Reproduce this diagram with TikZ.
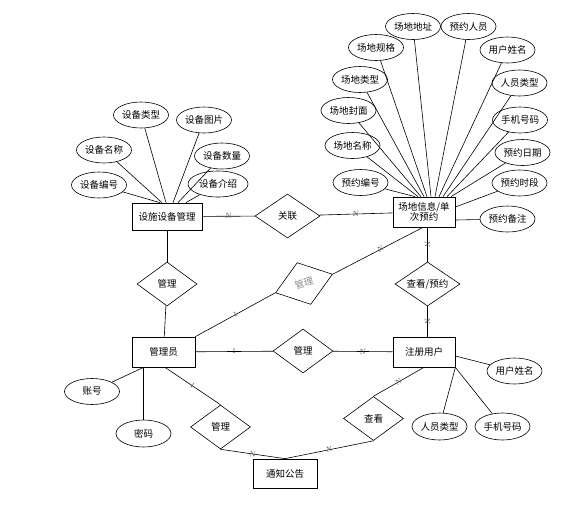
\documentclass[tikz,border=0pt]{standalone}
\usepackage{fontspec}
\usepackage{tikz}
\usetikzlibrary{shapes.geometric,shadows}
\newfontfamily\cjk{Noto Sans CJK SC}
\definecolor{cLbl}{HTML}{4a4a4a}
\tikzset{
  ent/.style={draw,fill=white,line width=0.7pt,minimum width=63pt,minimum height=30pt,
    inner sep=2pt,align=center,font=\cjk\fontsize{9.5}{10.5}\selectfont,
    drop shadow={shadow xshift=1pt,shadow yshift=-1pt,fill=black!45,opacity=0.7}},
  attr/.style={ellipse,draw,fill=white,line width=0.6pt,minimum width=55pt,minimum height=26pt,
    inner sep=0pt,font=\cjk\fontsize{9.5}{11}\selectfont},
  rel/.style={diamond,draw,fill=white,line width=0.6pt,aspect=1.5,minimum width=60pt,
    minimum height=44pt,inner sep=0pt,font=\cjk\fontsize{9.5}{11}\selectfont},
  card/.style={font=\fontsize{7.5}{8}\selectfont,text=cLbl,inner sep=0.5pt},
  link/.style={line width=0.6pt},
}

\begin{document}
\begin{tikzpicture}[x=1pt,y=-1pt]
\useasboundingbox (0,0) rectangle (579,504);
% entities
\node[ent,minimum width=70pt,minimum height=27pt] (dev) at (167,216.5) {设施设备管理};
\node[ent,minimum width=62pt] (site) at (424,212) {场地信息/单\\[-1pt]次预约};
\node[ent] (admin) at (163.5,352) {管理员};
\node[ent,minimum width=62pt] (user) at (424,352) {注册用户};
\node[ent,minimum width=64pt,minimum height=29pt] (notice) at (285,473.5) {通知公告};
% relations
\node[rel,minimum width=65pt] (rel) at (287.5,216) {关联};
\node[rel] (mgA) at (167,284) {管理};
\node[rel,rotate=18,text=black!45] (mgB) at (304,283.5) {管理};
\node[rel,minimum width=65pt] (view) at (427.5,284) {查看/预约};
\node[rel] (mgC) at (303,351) {管理};
\node[rel] (mgD) at (220.5,427) {管理};
\node[rel] (look) at (373.5,418.5) {查看};
% attributes of dev
\node[attr] (dType) at (141,115) {设备类型};
\node[attr] (dPic) at (204,120) {设备图片};
\node[attr] (dName) at (104,150) {设备名称};
\node[attr] (dNum) at (222,156) {设备数量};
\node[attr] (dId) at (99,185) {设备编号};
\node[attr,minimum width=60pt] (dIntro) at (218,184) {设备介绍};
\draw[link] (dId) -- ([xshift=-7pt]dev.north);
\draw[link] (dName) -- ([xshift=-5pt]dev.north);
\draw[link] (dType) -- ([xshift=-1pt]dev.north);
\draw[link] (dPic) -- ([xshift=6pt]dev.north);
\draw[link] (dNum) -- ([xshift=11pt]dev.north);
\draw[link] (dIntro) -- ([xshift=19pt]dev.north);
% attributes of site
\node[attr] (sAddr) at (413,26.5) {场地地址};
\node[attr] (rPers) at (468.5,26.5) {预约人员};
\node[attr] (sSpec) at (376,47.5) {场地规格};
\node[attr] (uName) at (507.5,50) {用户姓名};
\node[attr] (sType) at (360,79.5) {场地类型};
\node[attr] (pType) at (519.5,83) {人员类型};
\node[attr] (sCover) at (348.5,110.5) {场地封面};
\node[attr] (phone) at (520,120) {手机号码};
\node[attr] (sName) at (352.5,145.5) {场地名称};
\node[attr] (rDate) at (522.5,152.5) {预约日期};
\node[attr] (rId) at (360.5,182.5) {预约编号};
\node[attr] (rTime) at (519.5,183) {预约时段};
\node[attr] (rNote) at (507.5,219) {预约备注};
\draw[link] (rId) -- ([xshift=-9pt]site.north);
\draw[link] (sName) -- ([xshift=-6pt]site.north);
\draw[link] (sCover) -- ([xshift=-3pt]site.north);
\draw[link] (sType) -- (site.north);
\draw[link] (sSpec) -- ([xshift=3pt]site.north);
\draw[link] (sAddr) -- ([xshift=7pt]site.north);
\draw[link] (rPers) -- ([xshift=11pt]site.north);
\draw[link] (uName) -- ([xshift=15pt]site.north);
\draw[link] (pType) -- ([xshift=19pt]site.north);
\draw[link] (phone) -- ([xshift=23pt]site.north);
\draw[link] (rDate) -- ([xshift=27pt]site.north);
\draw[link] (rTime) -- ([yshift=5pt]site.east);
\draw[link] (rNote) -- ([yshift=-8pt]site.east);
% attributes of admin
\node[attr] (acct) at (92,391.5) {账号};
\node[attr,minimum height=27pt] (pwd) at (143.5,433.5) {密码};
\draw[link] (acct) -- ([xshift=-20pt]admin.south);
\draw[link] (pwd.north) -- (pwd.north |- admin.south);
% attributes of user
\node[attr] (uName2) at (514.5,371) {用户姓名};
\node[attr,minimum height=27pt] (pType2) at (439.5,426.5) {人员类型};
\node[attr,minimum height=27pt] (phone2) at (502.5,426.5) {手机号码};
\draw[link] ([yshift=-4pt]user.east) -- (uName2);
\draw[link] (user.south east) -- (pType2);
\draw[link] (user.south east) -- (phone2);
% relationships
\draw[link] (dev) -- (rel) node[card,pos=0.5] {N};
\draw[link] (rel) -- (site) node[card,pos=0.5] {N};
\draw[link] (dev) -- (mgA);
\draw[link] (mgA) -- (admin);
\draw[link] (admin.north east) -- (mgB.west) node[card,pos=0.5,sloped] {1};
\draw[link] (mgB.east) -- ([xshift=-1pt]site.south) node[card,pos=0.53,sloped] {N};
\draw[link] (view.north |- site.south) -- (view.north) node[card,pos=0.5,sloped] {N};
\draw[link] (view.south) -- (view.south |- user.north) node[card,pos=0.5,sloped] {N};
\draw[link] (admin) -- (mgC) node[card,pos=0.5] {1};
\draw[link] (mgC) -- (user) node[card,pos=0.5] {N};
\draw[link] ([xshift=1.5pt]admin.south) -- (mgD.north) node[card,pos=0.5,sloped] {1};
\draw[link] (mgD.south) -- (notice.north) node[card,pos=0.5,sloped] {N};
\draw[link] (user.south) -- (look.north) node[card,pos=0.5,sloped] {N};
\draw[link] (look.south) -- (notice.north) node[card,pos=0.5,sloped] {N};
\end{tikzpicture}
\end{document}
